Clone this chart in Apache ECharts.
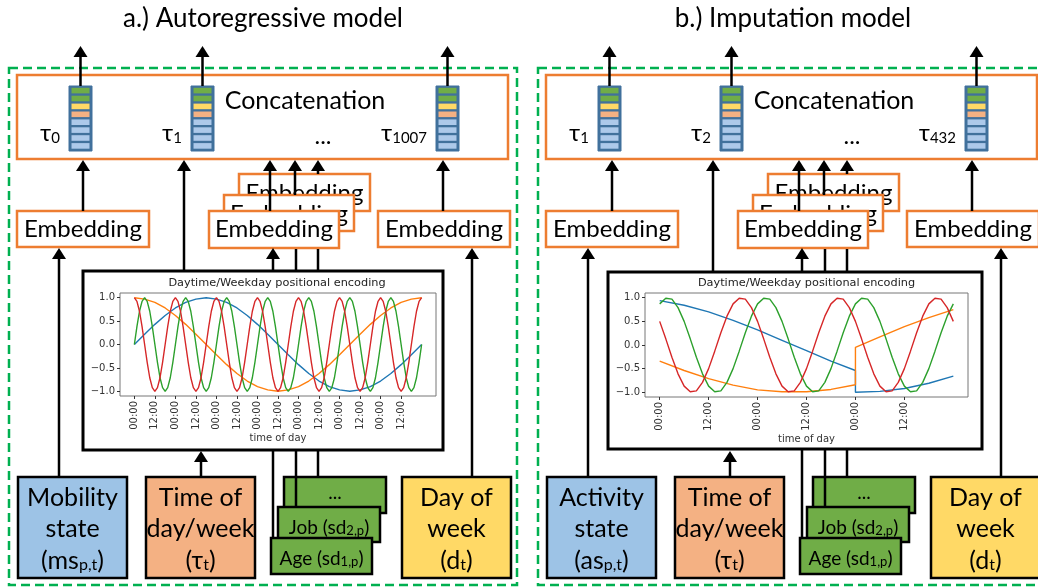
<!DOCTYPE html>
<html><head><meta charset="utf-8">
<script src="https://cdn.jsdelivr.net/npm/echarts@6/dist/echarts.min.js"></script>
<style>html,body{margin:0;padding:0;background:#fff}#c{width:1038px;height:588px}</style>
</head><body><div id="c"></div>
<script>
// ---------------- DATA ----------------
// Left plot (one week, hours from start)
const leftDailyHours = [
  0,1.5,3,4.5,6,7.5,9,10.5,12,13.5,15,16.5,18,19.5,21,22.5,
  24,25.5,27,28.5,30,31.5,33,34.5,36,37.5,39,40.5,42,43.5,45,46.5,
  48,49.5,51,52.5,54,55.5,57,58.5,60,61.5,63,64.5,66,67.5,69,70.5,
  72,73.5,75,76.5,78,79.5,81,82.5,84,85.5,87,88.5,90,91.5,93,94.5,
  96,97.5,99,100.5,102,103.5,105,106.5,108,109.5,111,112.5,114,115.5,117,118.5,
  120,121.5,123,124.5,126,127.5,129,130.5,132,133.5,135,136.5,138,139.5,141,142.5,
  144,145.5,147,148.5,150,151.5,153,154.5,156,157.5,159,160.5,162,163.5,165,166.5,
  168];
const leftRed = [
  1,.92,.71,.38,0,-.38,-.71,-.92,-1,-.92,-.71,-.38,0,.38,.71,.92,
  1,.92,.71,.38,0,-.38,-.71,-.92,-1,-.92,-.71,-.38,0,.38,.71,.92,
  1,.92,.71,.38,0,-.38,-.71,-.92,-1,-.92,-.71,-.38,0,.38,.71,.92,
  1,.92,.71,.38,0,-.38,-.71,-.92,-1,-.92,-.71,-.38,0,.38,.71,.92,
  1,.92,.71,.38,0,-.38,-.71,-.92,-1,-.92,-.71,-.38,0,.38,.71,.92,
  1,.92,.71,.38,0,-.38,-.71,-.92,-1,-.92,-.71,-.38,0,.38,.71,.92,
  1,.92,.71,.38,0,-.38,-.71,-.92,-1,-.92,-.71,-.38,0,.38,.71,.92,
  1];
const leftGreen = [
  0,.38,.71,.92,1,.92,.71,.38,0,-.38,-.71,-.92,-1,-.92,-.71,-.38,
  0,.38,.71,.92,1,.92,.71,.38,0,-.38,-.71,-.92,-1,-.92,-.71,-.38,
  0,.38,.71,.92,1,.92,.71,.38,0,-.38,-.71,-.92,-1,-.92,-.71,-.38,
  0,.38,.71,.92,1,.92,.71,.38,0,-.38,-.71,-.92,-1,-.92,-.71,-.38,
  0,.38,.71,.92,1,.92,.71,.38,0,-.38,-.71,-.92,-1,-.92,-.71,-.38,
  0,.38,.71,.92,1,.92,.71,.38,0,-.38,-.71,-.92,-1,-.92,-.71,-.38,
  0,.38,.71,.92,1,.92,.71,.38,0,-.38,-.71,-.92,-1,-.92,-.71,-.38,
  0];
const leftWeeklyHours = [0,6,12,18,24,30,36,42,48,54,60,66,72,78,84,90,96,102,108,114,120,126,132,138,144,150,156,162,168];
const leftBlue = [0,.22,.43,.62,.78,.90,.97,1,.97,.90,.78,.62,.43,.22,0,-.22,-.43,-.62,-.78,-.90,-.97,-1,-.97,-.90,-.78,-.62,-.43,-.22,0];
const leftOrange = [1,.97,.90,.78,.62,.43,.22,0,-.22,-.43,-.62,-.78,-.90,-.97,-1,-.97,-.90,-.78,-.62,-.43,-.22,0,.22,.43,.62,.78,.90,.97,1];
const leftXTicks = [0,12,24,36,48,60,72,84,96,108,120,132,144,156];
const leftXLabels = ['00:00','12:00','00:00','12:00','00:00','12:00','00:00','12:00','00:00','12:00','00:00','12:00','00:00','12:00'];

// Right plot (three days)
const rightDailyHours = [
  0,1.5,3,4.5,6,7.5,9,10.5,12,13.5,15,16.5,18,19.5,21,22.5,
  24,25.5,27,28.5,30,31.5,33,34.5,36,37.5,39,40.5,42,43.5,45,46.5,
  48,49.5,51,52.5,54,55.5,57,58.5,60,61.5,63,64.5,66,67.5,69,70.5,
  72];
const rightRed = [
  .5,.13,-.26,-.61,-.87,-.99,-.97,-.79,-.5,-.13,.26,.61,.87,.99,.97,.79,
  .5,.13,-.26,-.61,-.87,-.99,-.97,-.79,-.5,-.13,.26,.61,.87,.99,.97,.79,
  .5,.13,-.26,-.61,-.87,-.99,-.97,-.79,-.5,-.13,.26,.61,.87,.99,.97,.79,
  .5];
const rightGreen = [
  .87,.99,.97,.79,.5,.13,-.26,-.61,-.87,-.99,-.97,-.79,-.5,-.13,.26,.61,
  .87,.99,.97,.79,.5,.13,-.26,-.61,-.87,-.99,-.97,-.79,-.5,-.13,.26,.61,
  .87,.99,.97,.79,.5,.13,-.26,-.61,-.87,-.99,-.97,-.79,-.5,-.13,.26,.61,
  .87];
const rightWeeklyHours = [0,6,12,18,24,30,36,42,48,48,54,60,66,72];
const rightBlue = [.94,.84,.70,.52,.32,.10,-.12,-.34,-.54,-1.0,-.98,-.92,-.81,-.66];
const rightOrange = [-.34,-.54,-.71,-.85,-.95,-.99,-.99,-.94,-.84,-.05,.17,.39,.58,.75];
const rightXTicks = [0,12,24,36,48,60];
const rightXLabels = ['00:00','12:00','00:00','12:00','00:00','12:00'];

const yTicks = [-1,-0.5,0,0.5,1];
const yLabels = ['\u22121.0','\u22120.5','0.0','0.5','1.0'];

const titles = ['a.) Autoregressive model','b.) Imputation model'];
const plotTitle = 'Daytime/Weekday positional encoding';
const stateLabels = [['Mobility','state','ms'],['Activity','state','as']];
const tauLabels = [['0','1','1007'],['1','2','432']];

// ---------------- DRAWING ----------------
const F = 'Lato, "Open Sans", sans-serif';
const MF = '"DejaVu Sans", sans-serif';
const ORANGE = '#ed7d31';
const COLORS = {blue:'#1f77b4', orange:'#ff7f0e', green:'#2ca02c', red:'#d62728'};

function rect(x,y,w,h,fill,stroke,lw,z,dash){
  return {type:'rect', silent:true, z:z||1, shape:{x:x,y:y,width:w,height:h},
    style:{fill:fill, stroke:stroke||null, lineWidth:lw||0, lineDash:dash||null}};
}
function line(x1,y1,x2,y2,z){
  return {type:'line', silent:true, z:z||20, shape:{x1:x1,y1:y1,x2:x2,y2:y2}, style:{stroke:'#000', lineWidth:2.5}};
}
function arrowUp(x,yFrom,yTip,z){
  return [line(x,yFrom,x,yTip+6,z),
    {type:'polygon', silent:true, z:z||20, shape:{points:[[x,yTip],[x-7,yTip+11],[x+7,yTip+11]]}, style:{fill:'#000'}}];
}
function txt(x,y,s,size,z,extra){
  const st = Object.assign({text:s, font:size+'px '+F, fill:'#000', align:'center', verticalAlign:'middle'}, extra||{});
  return {type:'text', silent:true, z:z||30, x:x, y:y, style:st};
}
function subTxt(x,y,main,sub,tail,size,subSize,z,align){
  const rich = {
    n:{fontSize:size, fontFamily:F, verticalAlign:'bottom', lineHeight:size*1.2},
    s:{fontSize:subSize, fontFamily:F, verticalAlign:'bottom', lineHeight:size*1.15}
  };
  const s = '{n|'+main+'}{s|'+sub+'}' + (tail ? '{n|'+tail+'}' : '');
  return {type:'text', silent:true, z:z||30, x:x, y:y,
    style:{text:s, rich:rich, fill:'#000', align:align||'center', verticalAlign:'middle', font:size+'px '+F}};
}

function panel(i){
  const dx = i===0 ? 0 : 529;
  const els = [];
  els.push(rect(9+dx,68,508,517,'none','#00b050',2.5,1,[9,5]));
  els.push(rect(17+dx,75,491,84,'#fff',ORANGE,2.5,2));
  els.push(txt(305+dx,101,'Concatenation',25,30));
  els.push(txt(323+dx,136,'...',24,30));
  const vx = [69,191,436];
  const cellCol = ['#70ad47','#70ad47','#ffd966','#f4b183','#adc9ea','#adc9ea','#adc9ea','#adc9ea'];
  vx.forEach((x0,k)=>{
    const x = x0+dx;
    els.push(rect(x,86,23,65,'#41719c','#41719c',1,3));
    cellCol.forEach((c,j)=>{ els.push(rect(x+2.5,87.8+j*7.9,18,5.6,c,null,0,4)); });
    els.push(subTxt(x-9,131,'\u03c4',tauLabels[i][k],'',24,15,30,'right'));
    arrowUp(x+11.5,86,46,20).forEach(e=>els.push(e));
  });
  els.push(rect(17+dx,211,132,36,'#fff',ORANGE,2.5,5));
  els.push(txt(83+dx,229,'Embedding',24,6));
  els.push(rect(239+dx,174,131,37,'#fff',ORANGE,2.5,7));
  els.push(txt(304.5+dx,193.5,'Embedding',24,8));
  els.push(rect(224+dx,195,130,36,'#fff',ORANGE,2.5,9));
  els.push(txt(289+dx,214.5,'Embedding',24,10));
  els.push(rect(209+dx,211,130,37,'#fff',ORANGE,2.5,11));
  els.push(txt(274+dx,229.5,'Embedding',24,12));
  els.push(rect(378+dx,211,132,36,'#fff',ORANGE,2.5,5));
  els.push(txt(444+dx,229,'Embedding',24,6));
  arrowUp(83+dx,211,160).forEach(e=>els.push(e));
  const plotTop = i===0 ? 271 : 272;
  arrowUp(184+dx,plotTop,160).forEach(e=>els.push(e));
  arrowUp(270+dx,211,160).forEach(e=>els.push(e));
  arrowUp(295+dx,195,160).forEach(e=>els.push(e));
  arrowUp(318+dx,174,160).forEach(e=>els.push(e));
  arrowUp(443+dx,211,160).forEach(e=>els.push(e));
  arrowUp(59+dx,477,248).forEach(e=>els.push(e));
  arrowUp(273+dx,plotTop,248).forEach(e=>els.push(e));
  els.push(line(296+dx,plotTop,296+dx,249));
  els.push(line(318+dx,plotTop,318+dx,249));
  arrowUp(472+dx,477,248).forEach(e=>els.push(e));
  if(i===0) els.push(rect(83,271,360,179,'none','#000',3,2));
  else els.push(rect(608,272,374,177,'none','#000',3,2));
  arrowUp(201+dx,477,451).forEach(e=>els.push(e));
  els.push(line(273+dx,538,273+dx,450));
  els.push(line(296+dx,507,296+dx,450));
  els.push(line(318+dx,477,318+dx,450));
  els.push(rect(18+dx,477,109,101,'#9dc3e6','#000',2.5,5));
  els.push(txt(72.5+dx,498,stateLabels[i][0],25,30));
  els.push(txt(72.5+dx,529,stateLabels[i][1],25,30));
  els.push(subTxt(72.5+dx,558,'('+stateLabels[i][2],'p,t',')',25,16,30));
  els.push(rect(146+dx,477,109,101,'#f4b183','#000',2.5,5));
  els.push(txt(200.5+dx,498,'Time of',25,30));
  els.push(txt(200.5+dx,529,'day/week',25,30));
  els.push(subTxt(200.5+dx,558,'(\u03c4','t',')',25,16,30));
  els.push(rect(402+dx,477,109,101,'#ffd966','#000',2.5,5));
  els.push(txt(456.5+dx,498,'Day of',25,30));
  els.push(txt(456.5+dx,529,'week',25,30));
  els.push(subTxt(456.5+dx,558,'(d','t',')',25,16,30));
  els.push(rect(284+dx,477,102,36,'#70ad47','#000',2.5,6));
  els.push(txt(335+dx,493,'...',19,7));
  els.push(rect(278+dx,507,102,35,'#70ad47','#000',2.5,8));
  els.push(subTxt(329+dx,526,'Job (sd','2,p',')',19,13,9));
  els.push(rect(271+dx,538,101,36,'#70ad47','#000',2.5,10));
  els.push(subTxt(321.5+dx,557,'Age (sd','1,p',')',19,13,11));
  els.push(txt(i===0?263:793,19,titles[i],26,30));
  els.push({type:'text', silent:true, z:30, x:i===0?277:806.5, y:283,
    style:{text:plotTitle, font:'11.3px '+MF, fill:'#222', align:'center', verticalAlign:'middle'}});
  return els;
}

const graphic = panel(0).concat(panel(1));

function xAxis(idx,min,max,ticks,labels){
  return {gridIndex:idx, type:'value', min:min, max:max,
    axisLine:{show:false, onZero:false}, splitLine:{show:false},
    axisTick:{show:true, customValues:ticks, length:3, lineStyle:{color:'#333', width:1}},
    axisLabel:{customValues:ticks, rotate:90, margin:5, fontSize:10, fontFamily:MF, color:'#333',
      formatter:function(v){ const k = ticks.indexOf(v); return k>=0 ? labels[k] : ''; }},
    name:'time of day', nameLocation:'middle', nameGap:37,
    nameTextStyle:{fontSize:10, fontFamily:MF, color:'#333'}};
}
function yAxis(idx){
  return {gridIndex:idx, type:'value', min:-1.1, max:1.1,
    axisLine:{show:false, onZero:false}, splitLine:{show:false},
    axisTick:{show:true, customValues:yTicks, length:3, lineStyle:{color:'#333', width:1}},
    axisLabel:{customValues:yTicks, margin:5, fontSize:10, fontFamily:MF, color:'#333',
      formatter:function(v){ const k = yTicks.indexOf(v); return k>=0 ? yLabels[k] : ''; }}};
}
function ser(xi,hours,vals,color){
  return {type:'line', xAxisIndex:xi, yAxisIndex:xi, data:hours.map((h,k)=>[h,vals[k]]),
    smooth:false, showSymbol:false, symbol:'none', lineStyle:{color:color, width:1.4}, itemStyle:{color:color},
    animation:false, silent:true, z:3};
}

const option = {
  backgroundColor:'#fff',
  animation:false,
  grid:[
    {left:120, top:293, width:316, height:103, show:true, borderColor:'#777', borderWidth:1, backgroundColor:'#fff'},
    {left:645, top:293, width:323, height:104, show:true, borderColor:'#777', borderWidth:1, backgroundColor:'#fff'}
  ],
  xAxis:[xAxis(0,-8.4,176.4,leftXTicks,leftXLabels), xAxis(1,-3.6,75.6,rightXTicks,rightXLabels)],
  yAxis:[yAxis(0), yAxis(1)],
  series:[
    ser(0,leftWeeklyHours,leftBlue,COLORS.blue),
    ser(0,leftWeeklyHours,leftOrange,COLORS.orange),
    ser(0,leftDailyHours,leftGreen,COLORS.green),
    ser(0,leftDailyHours,leftRed,COLORS.red),
    ser(1,rightWeeklyHours,rightBlue,COLORS.blue),
    ser(1,rightWeeklyHours,rightOrange,COLORS.orange),
    ser(1,rightDailyHours,rightGreen,COLORS.green),
    ser(1,rightDailyHours,rightRed,COLORS.red)
  ],
  graphic:{elements:graphic}
};
const chart = echarts.init(document.getElementById('c'));
chart.setOption(option);
</script></body></html>
